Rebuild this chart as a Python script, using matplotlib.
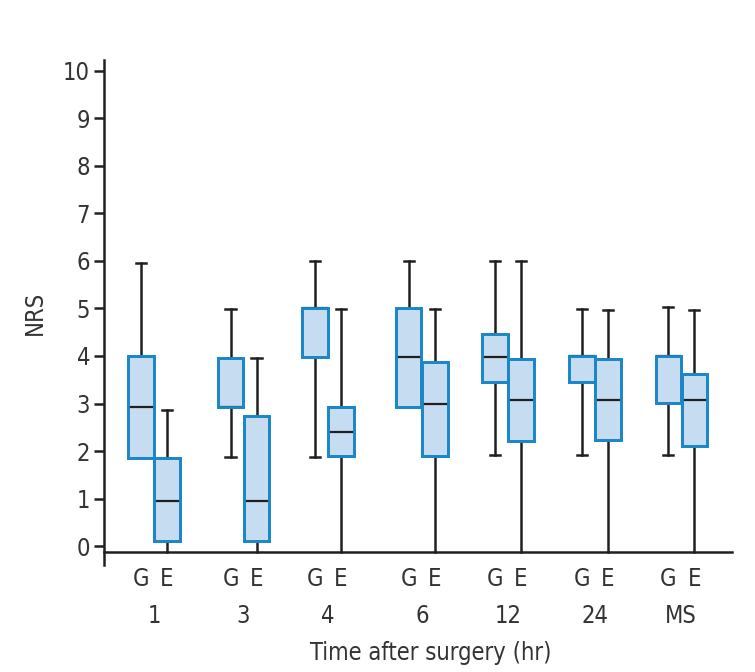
"""
NRS box plots by time after surgery, groups G and E
"""

import matplotlib.pyplot as plt
from matplotlib.patches import PathPatch
from matplotlib import font_manager

# ============================================================================
# Data
# ============================================================================

time_labels = ['1', '3', '4', '6', '12', '24', 'MS']
group_names = ['G', 'E']

# group G: lower whisker, Q1, median, Q3, upper whisker
g_low = [1.85, 1.88, 1.88, 2.93, 1.92, 1.92, 1.92]
g_q1 = [1.85, 2.93, 3.97, 2.93, 3.45, 3.45, 3.02]
g_med = [2.92, 2.93, 5.00, 3.97, 3.97, 4.00, 4.00]
g_q3 = [4.00, 3.95, 5.00, 5.00, 4.46, 4.00, 4.00]
g_high = [5.95, 4.98, 6.00, 6.00, 6.00, 4.98, 5.03]

# group E
e_low = [0, 0, 0, 0, 0, 0, 0]
e_q1 = [0.10, 0.10, 1.90, 1.89, 2.22, 2.23, 2.10]
e_med = [0.95, 0.95, 2.40, 2.98, 3.07, 3.07, 3.07]
e_q3 = [1.85, 2.74, 2.93, 3.87, 3.94, 3.94, 3.62]
e_high = [2.87, 3.95, 4.98, 4.98, 6.00, 4.96, 4.96]

# ============================================================================
# Layout / style
# ============================================================================

group_pos = [1, 2.03, 3.0, 4.08, 5.07, 6.07, 7.06]
offset = 0.15
box_width = 0.29
axis_y = -0.12

face_color = '#c6dcf0'
edge_color = '#1c87c8'
line_color = '#231f20'
text_color = '#333333'
fs = 17

# pick a narrow font if one is around
names = set(f.name for f in font_manager.fontManager.ttflist)
if 'Liberation Sans Narrow' in names:
    plt.rcParams['font.family'] = ['Liberation Sans Narrow', 'DejaVu Sans']
else:
    plt.rcParams['font.family'] = ['DejaVu Sans']
    plt.rcParams['font.stretch'] = 'condensed'

fig = plt.figure(figsize=(7.55, 6.72), dpi=100)
ax = fig.add_axes([0.1377, 0.159, 0.8318, 0.752])

# build stats dicts for bxp
stats = []
positions = []
for i in range(len(time_labels)):
    stats.append(dict(whislo=g_low[i], q1=g_q1[i], med=g_med[i],
                      q3=g_q3[i], whishi=g_high[i], fliers=[]))
    positions.append(group_pos[i] - offset)
    stats.append(dict(whislo=e_low[i], q1=e_q1[i], med=e_med[i],
                      q3=e_q3[i], whishi=e_high[i], fliers=[]))
    positions.append(group_pos[i] + offset)

bp = ax.bxp(stats, positions=positions, widths=box_width,
            capwidths=0.12, patch_artist=True, showfliers=False,
            boxprops=dict(facecolor=face_color, edgecolor=edge_color,
                          linewidth=2.0, zorder=2),
            medianprops=dict(color=line_color, linewidth=1.6, zorder=3),
            whiskerprops=dict(color=line_color, linewidth=1.8, zorder=1),
            capprops=dict(color=line_color, linewidth=1.8, zorder=1))

# redraw box outlines on top so medians sitting on an edge are hidden
for box in bp['boxes']:
    ax.add_patch(PathPatch(box.get_path(), facecolor='none',
                           edgecolor=edge_color, linewidth=2.0, zorder=4))

# whiskers that reach 0 run down to the axis line with no cap
for k, st in enumerate(stats):
    low_whisker = bp['whiskers'][2 * k]
    low_cap = bp['caps'][2 * k]
    if st['whislo'] == 0:
        low_whisker.set_ydata([st['q1'], axis_y])
        low_cap.set_visible(False)
    elif st['whislo'] == st['q1']:
        low_cap.set_visible(False)

# ============================================================================
# Axes
# ============================================================================

ax.set_xlim(0.425, 7.644)
ax.set_ylim(-0.4, 10.23)

ax.spines['top'].set_visible(False)
ax.spines['right'].set_visible(False)
ax.spines['bottom'].set_position(('data', axis_y))
ax.spines['left'].set_linewidth(1.8)
ax.spines['bottom'].set_linewidth(1.8)
ax.spines['left'].set_color(line_color)
ax.spines['bottom'].set_color(line_color)

ax.set_yticks(range(0, 11))
ax.tick_params(axis='y', length=7, width=1.8, color=line_color,
               labelsize=fs, pad=3, labelcolor=text_color)

# G / E labels under each box, time point below
tick_pos = []
tick_lab = []
for i in range(len(time_labels)):
    tick_pos += [group_pos[i] - offset, group_pos[i] + offset]
    tick_lab += group_names
ax.set_xticks(tick_pos)
ax.set_xticklabels(tick_lab)
ax.tick_params(axis='x', length=0, labelsize=fs, pad=11,
               labelcolor=text_color)

for i, lab in enumerate(time_labels):
    ax.text(group_pos[i], -1.47, lab, ha='center', va='center',
            fontsize=fs, color=text_color)

ax.text(4.18, -2.24, 'Time after surgery (hr)', ha='center', va='center',
        fontsize=fs, color=text_color)
ax.set_ylabel('NRS', fontsize=fs, color=text_color, labelpad=12)

fig.savefig('out.png', dpi=100)
